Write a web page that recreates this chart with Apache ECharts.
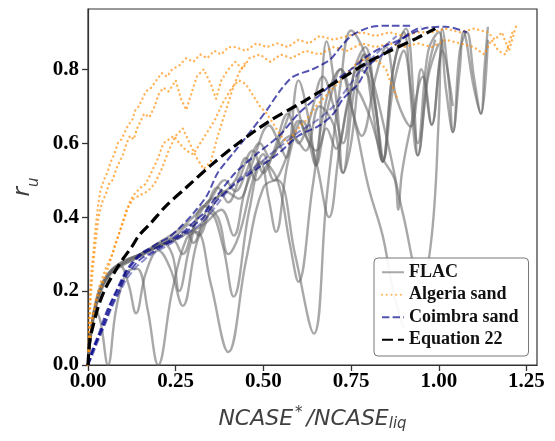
<!DOCTYPE html>
<html><head><meta charset="utf-8">
<script src="https://cdn.jsdelivr.net/npm/echarts@6/dist/echarts.min.js"></script>
<style>html,body{margin:0;padding:0;background:#fff}#c{width:555px;height:441px}</style>
</head><body><div id="c"></div>
<script>
const xTicks = [0, 0.25, 0.5, 0.75, 1.0, 1.25];
const yTicks = [0, 0.2, 0.4, 0.6, 0.8];
const legendNames = ['FLAC', 'Algeria sand', 'Coimbra sand', 'Equation 22'];

// FLAC numerical curves (x, r_u)
const flac1 = [[0,0],[0.008,0.08],[0.02,0.15],[0.035,0.12],[0.057,0],[0.08,0.15],[0.11,0.25],[0.14,0.26],[0.17,0.15],[0.2,0],[0.24,0.2],[0.28,0.34],[0.31,0.36],[0.35,0.22],[0.4,0.035],[0.45,0.28],[0.5,0.48],[0.54,0.5],[0.59,0.3],[0.644,0.085],[0.68,0.45],[0.72,0.76],[0.75,0.905],[0.79,0.84],[0.85,0.62],[0.9,0.4],[0.95,0.22],[0.98,0.35],[1.0,0.67],[1.01,0.91],[1.03,0.75],[1.04,0.63],[1.06,0.8],[1.07,0.9],[1.1,0.75],[1.12,0.68],[1.13,0.8],[1.14,0.915]];
const flac2 = [[0,0],[0.01,0.1],[0.03,0.19],[0.06,0.245],[0.09,0.27],[0.115,0.22],[0.137,0.14],[0.165,0.25],[0.2,0.31],[0.235,0.26],[0.27,0.16],[0.31,0.33],[0.35,0.41],[0.385,0.32],[0.415,0.185],[0.46,0.42],[0.5,0.55],[0.54,0.5],[0.575,0.33],[0.6,0.225],[0.64,0.48],[0.68,0.72],[0.72,0.8],[0.76,0.66],[0.8,0.48],[0.84,0.35],[0.87,0.2],[0.9,0.1]];
const flac3 = [[0,0],[0.01,0.1],[0.03,0.2],[0.06,0.25],[0.1,0.28],[0.15,0.3],[0.2,0.325],[0.25,0.35],[0.29,0.38],[0.315,0.35],[0.35,0.42],[0.39,0.47],[0.43,0.45],[0.47,0.55],[0.516,0.648],[0.545,0.6],[0.565,0.56],[0.6,0.77],[0.63,0.66],[0.65,0.54],[0.68,0.875],[0.71,0.7],[0.727,0.52],[0.76,0.75],[0.79,0.84],[0.82,0.7],[0.84,0.55],[0.87,0.8],[0.906,0.91],[0.93,0.7],[0.94,0.567],[0.97,0.8],[0.99,0.88]];
const flac4 = [[0,0],[0.01,0.09],[0.03,0.18],[0.06,0.24],[0.1,0.27],[0.15,0.295],[0.2,0.32],[0.26,0.345],[0.33,0.38],[0.38,0.42],[0.415,0.35],[0.45,0.48],[0.49,0.55],[0.515,0.45],[0.536,0.36],[0.57,0.55],[0.61,0.66],[0.65,0.55],[0.687,0.40],[0.72,0.6],[0.76,0.75],[0.8,0.68],[0.84,0.56],[0.875,0.5],[0.884,0.42],[0.895,0.52],[0.92,0.645],[0.955,0.78],[0.98,0.65],[1.0,0.8],[1.01,0.88]];
const flac5 = [[0,0],[0.01,0.1],[0.03,0.19],[0.06,0.245],[0.1,0.275],[0.15,0.3],[0.2,0.32],[0.24,0.34],[0.27,0.3],[0.3,0.37],[0.34,0.44],[0.38,0.46],[0.42,0.5],[0.45,0.56],[0.48,0.5],[0.51,0.54],[0.55,0.6],[0.58,0.62],[0.62,0.58],[0.66,0.7],[0.7,0.65],[0.727,0.52],[0.75,0.6],[0.785,0.84],[0.81,0.7],[0.84,0.55],[0.87,0.75],[0.9,0.85],[0.94,0.567],[0.97,0.78],[1.0,0.87]];
const flac6 = [[0,0],[0.01,0.1],[0.025,0.17],[0.05,0.23],[0.08,0.265],[0.12,0.28],[0.16,0.3],[0.21,0.33],[0.24,0.3],[0.26,0.2],[0.29,0.32],[0.33,0.43],[0.37,0.4],[0.4,0.3],[0.43,0.35],[0.47,0.5],[0.5,0.57],[0.53,0.5],[0.565,0.56],[0.6,0.66],[0.63,0.6],[0.65,0.54],[0.68,0.64],[0.707,0.585],[0.74,0.7],[0.77,0.8],[0.8,0.78],[0.84,0.55]];
const flac7 = [[0,0],[0.01,0.1],[0.03,0.19],[0.06,0.245],[0.1,0.275],[0.15,0.3],[0.2,0.33],[0.25,0.36],[0.3,0.4],[0.35,0.45],[0.39,0.5],[0.42,0.47],[0.45,0.52],[0.49,0.6],[0.52,0.56],[0.55,0.62],[0.59,0.7],[0.62,0.62],[0.65,0.58],[0.69,0.72],[0.72,0.8],[0.75,0.7],[0.78,0.62],[0.82,0.78],[0.85,0.86],[0.88,0.72],[0.92,0.645],[0.95,0.8],[0.98,0.65],[1.01,0.85],[1.04,0.7]];
const flac8 = [[0,0],[0.01,0.1],[0.03,0.19],[0.06,0.25],[0.1,0.28],[0.15,0.3],[0.2,0.32],[0.25,0.34],[0.28,0.36],[0.3,0.33],[0.33,0.4],[0.37,0.48],[0.4,0.44],[0.43,0.5],[0.47,0.58],[0.5,0.52],[0.53,0.58],[0.57,0.68],[0.6,0.6],[0.63,0.66],[0.67,0.78],[0.7,0.7],[0.727,0.6],[0.76,0.8],[0.79,0.86],[0.82,0.7],[0.84,0.55],[0.87,0.8],[0.9,0.9],[0.92,0.75],[0.94,0.6],[0.97,0.85],[1.0,0.9],[1.02,0.75],[1.04,0.63],[1.06,0.85],[1.08,0.9],[1.1,0.78],[1.12,0.68],[1.14,0.88]];

// Laboratory data, Algeria sand
const algeria1 = [[0,0],[0.003,0.12],[0.006,0.2],[0.01,0.26],[0.015,0.3],[0.02,0.36],[0.025,0.4],[0.03,0.44],[0.035,0.47],[0.045,0.5],[0.055,0.52],[0.065,0.55],[0.075,0.57],[0.085,0.6],[0.095,0.61],[0.105,0.63],[0.115,0.65],[0.125,0.66],[0.135,0.69],[0.145,0.7],[0.155,0.72],[0.165,0.74],[0.18,0.75],[0.195,0.77],[0.21,0.79],[0.225,0.78],[0.24,0.8],[0.26,0.81],[0.28,0.83],[0.3,0.82],[0.32,0.84],[0.34,0.83],[0.36,0.85],[0.38,0.84],[0.4,0.86],[0.42,0.86],[0.45,0.85],[0.48,0.87],[0.51,0.86],[0.54,0.87],[0.57,0.86],[0.6,0.88],[0.63,0.87],[0.66,0.89],[0.7,0.88],[0.74,0.89],[0.78,0.9],[0.82,0.89],[0.86,0.9],[0.9,0.89],[0.94,0.9],[0.98,0.9],[1.02,0.91],[1.06,0.9],[1.1,0.91],[1.14,0.9],[1.16,0.88],[1.18,0.9],[1.2,0.85],[1.22,0.915]];
const algeria2 = [[0,0],[0.004,0.1],[0.008,0.18],[0.012,0.24],[0.018,0.3],[0.024,0.35],[0.03,0.4],[0.04,0.44],[0.05,0.46],[0.06,0.49],[0.07,0.5],[0.08,0.53],[0.09,0.55],[0.1,0.57],[0.11,0.6],[0.12,0.62],[0.13,0.61],[0.14,0.64],[0.15,0.66],[0.16,0.68],[0.175,0.67],[0.19,0.7],[0.2,0.73],[0.215,0.75],[0.23,0.74],[0.25,0.77],[0.265,0.72],[0.28,0.69],[0.29,0.72],[0.31,0.78],[0.33,0.8],[0.35,0.76],[0.365,0.72],[0.38,0.77],[0.4,0.8],[0.42,0.82],[0.44,0.8],[0.46,0.83],[0.49,0.84],[0.52,0.82],[0.55,0.84],[0.58,0.83],[0.62,0.85],[0.66,0.84],[0.7,0.86],[0.74,0.85],[0.78,0.87],[0.82,0.86],[0.86,0.87],[0.9,0.86],[0.94,0.87],[0.98,0.86],[1.02,0.88],[1.06,0.87],[1.1,0.86],[1.13,0.84],[1.15,0.88],[1.17,0.85],[1.19,0.84],[1.2,0.87],[1.21,0.9]];
const algeria3 = [[0,0],[0.005,0.07],[0.01,0.12],[0.02,0.16],[0.03,0.19],[0.045,0.23],[0.06,0.27],[0.075,0.32],[0.09,0.36],[0.105,0.4],[0.117,0.437],[0.13,0.46],[0.15,0.48],[0.165,0.49],[0.18,0.52],[0.2,0.56],[0.215,0.6],[0.23,0.61],[0.245,0.62],[0.26,0.6],[0.28,0.58],[0.3,0.57],[0.32,0.6],[0.34,0.63],[0.36,0.66],[0.385,0.71],[0.41,0.75],[0.43,0.77],[0.45,0.76],[0.47,0.73],[0.49,0.7],[0.51,0.68],[0.53,0.65],[0.55,0.62],[0.57,0.6],[0.59,0.63],[0.62,0.66],[0.65,0.7],[0.68,0.73],[0.71,0.76],[0.74,0.79],[0.77,0.82],[0.8,0.83],[0.83,0.82],[0.85,0.8],[0.86,0.77],[0.87,0.75],[0.88,0.725]];
const algeria4 = [[0,0],[0.01,0.1],[0.02,0.17],[0.035,0.22],[0.05,0.26],[0.07,0.3],[0.09,0.36],[0.11,0.42],[0.13,0.45],[0.15,0.46],[0.17,0.47],[0.19,0.49],[0.21,0.53],[0.23,0.58],[0.25,0.62],[0.27,0.64],[0.29,0.6],[0.31,0.56],[0.33,0.53],[0.35,0.55],[0.37,0.62],[0.39,0.68],[0.41,0.74],[0.43,0.79],[0.45,0.82]];

// Laboratory data, Coimbra sand
const coimbra1 = [[0,0],[0.005,0.02],[0.01,0.035],[0.02,0.06],[0.031,0.085],[0.04,0.11],[0.051,0.14],[0.065,0.17],[0.08,0.2],[0.095,0.23],[0.108,0.255],[0.12,0.27],[0.137,0.29],[0.155,0.305],[0.174,0.315],[0.2,0.33],[0.23,0.345],[0.26,0.37],[0.3,0.41],[0.34,0.46],[0.37,0.52],[0.42,0.58],[0.47,0.64],[0.51,0.69],[0.55,0.745],[0.585,0.78],[0.64,0.8],[0.69,0.826],[0.72,0.86],[0.75,0.89],[0.78,0.905],[0.81,0.915],[0.86,0.918],[0.92,0.918]];
const coimbra2 = [[0,0],[0.005,0.015],[0.01,0.03],[0.02,0.055],[0.031,0.08],[0.04,0.1],[0.051,0.13],[0.065,0.165],[0.08,0.195],[0.095,0.225],[0.108,0.25],[0.12,0.265],[0.137,0.285],[0.155,0.3],[0.174,0.31],[0.2,0.32],[0.23,0.335],[0.255,0.35],[0.28,0.366],[0.305,0.39],[0.33,0.41],[0.35,0.435],[0.373,0.464],[0.42,0.52],[0.48,0.57],[0.545,0.62],[0.6,0.68],[0.66,0.73],[0.707,0.77],[0.75,0.8],[0.795,0.835],[0.84,0.86],[0.89,0.88],[0.93,0.9],[0.966,0.912],[1.02,0.915],[1.08,0.9]];
const coimbra3 = [[0,0],[0.005,0.012],[0.01,0.025],[0.02,0.05],[0.031,0.075],[0.04,0.095],[0.051,0.12],[0.065,0.155],[0.08,0.185],[0.095,0.215],[0.108,0.24],[0.12,0.255],[0.137,0.275],[0.155,0.29],[0.174,0.3],[0.2,0.315],[0.23,0.33],[0.255,0.345],[0.28,0.36],[0.305,0.38],[0.33,0.4],[0.35,0.425],[0.373,0.45],[0.42,0.49],[0.48,0.53],[0.54,0.57],[0.6,0.62],[0.66,0.648],[0.7,0.68],[0.727,0.72],[0.77,0.76],[0.8,0.81],[0.84,0.84],[0.88,0.87],[0.92,0.9],[0.95,0.915]];
const coimbra4 = [[0,0],[0.005,0.01],[0.01,0.02],[0.02,0.045],[0.031,0.07],[0.04,0.09],[0.051,0.115],[0.065,0.15],[0.08,0.18],[0.095,0.205],[0.108,0.23],[0.12,0.245],[0.137,0.265],[0.155,0.28],[0.174,0.295],[0.2,0.31],[0.23,0.325],[0.255,0.34],[0.28,0.355],[0.305,0.37],[0.33,0.39],[0.373,0.44],[0.42,0.495],[0.47,0.53],[0.516,0.567],[0.56,0.6],[0.6,0.63],[0.65,0.66],[0.7,0.7],[0.74,0.75],[0.78,0.8],[0.82,0.84],[0.855,0.87],[0.88,0.89]];

// Equation 22
const equation22 = [[0,0],[0.005,0.065],[0.014,0.104],[0.03,0.16],[0.051,0.21],[0.075,0.25],[0.099,0.286],[0.125,0.32],[0.145,0.35],[0.18,0.385],[0.222,0.43],[0.28,0.48],[0.35,0.54],[0.42,0.594],[0.516,0.659],[0.613,0.712],[0.707,0.766],[0.8,0.82],[0.855,0.847],[0.935,0.883],[0.99,0.91]];

const flacCurves = [flac1, flac2, flac3, flac4, flac5, flac6, flac7, flac8];
const algeriaCurves = [algeria1, algeria2, algeria3, algeria4];
const coimbraCurves = [coimbra1, coimbra2, coimbra3, coimbra4];

const series = [];
flacCurves.forEach(d => series.push({
  name: 'FLAC', type: 'line', data: d, symbol: 'none', smooth: 0.4,
  lineStyle: {color: 'rgba(105,105,105,0.58)', width: 2.4}, itemStyle: {color: 'rgba(105,105,105,0.58)'}, z: 2
}));
algeriaCurves.forEach(d => series.push({
  name: 'Algeria sand', type: 'line', data: d, symbol: 'none',
  lineStyle: {color: 'rgba(255,140,0,0.65)', width: 2.4, type: [0.1, 4.6], cap: 'round'}, itemStyle: {color: 'rgba(255,140,0,0.65)'}, z: 3
}));
coimbraCurves.forEach((d, i) => series.push({
  name: 'Coimbra sand', type: 'line', data: d, symbol: 'none', smooth: 0.3,
  lineStyle: {color: i === 3 ? 'rgba(30,30,150,0.5)' : 'rgba(0,0,139,0.68)', width: 2, type: [7.4, 3.2]}, itemStyle: {color: 'rgba(0,0,139,0.5)'}, z: 4
}));
series.push({
  name: 'Equation 22', type: 'line', data: equation22, symbol: 'none', smooth: 0.3,
  lineStyle: {color: '#000', width: 3.2, type: [11, 5]}, itemStyle: {color: '#000'}, z: 5
});

const tickFont = {fontFamily: 'Liberation Serif', fontWeight: 'bold', fontSize: 21, color: '#000'};
const chart = echarts.init(document.getElementById('c'), null, {renderer: 'canvas'});
chart.setOption({
  animation: false,
  backgroundColor: '#fff',
  grid: {left: 88, right: 18, top: 9, bottom: 76, show: true, borderColor: '#333', borderWidth: 1.2, backgroundColor: 'transparent'},
  xAxis: {
    type: 'value', min: 0, max: 1.28, interval: 0.25,
    axisLine: {show: true, lineStyle: {color: '#333', width: 1.2}},
    axisTick: {show: true, length: 6, lineStyle: {color: '#333', width: 1.3}, customValues: xTicks},
    axisLabel: Object.assign({margin: 6, customValues: xTicks, formatter: v => v.toFixed(2)}, tickFont),
    splitLine: {show: false},
    name: '{n|NCASE}{sup|*}{n|/NCASE}{sub|liq}', nameLocation: 'middle', nameGap: 41,
    nameTextStyle: {rich: {
      n: {fontFamily: 'DejaVu Sans', fontStyle: 'italic', fontSize: 22, color: '#404040', lineHeight: 26, verticalAlign: 'middle'},
      sup: {fontFamily: 'DejaVu Sans', fontStyle: 'italic', fontSize: 15, color: '#404040', lineHeight: 15, verticalAlign: 'top', padding: [0, 4, 0, 2]},
      sub: {fontFamily: 'DejaVu Sans', fontStyle: 'italic', fontSize: 15, color: '#404040', lineHeight: 15, verticalAlign: 'bottom'}
    }}
  },
  yAxis: {
    type: 'value', min: 0, max: 0.963, interval: 0.2,
    axisLine: {show: true, lineStyle: {color: '#333', width: 1.2}},
    axisTick: {show: true, length: 6, lineStyle: {color: '#333', width: 1.3}, customValues: yTicks},
    axisLabel: Object.assign({margin: 9, customValues: yTicks, formatter: v => v.toFixed(1)}, tickFont),
    splitLine: {show: false},
    name: '{r|r}{u|u}', nameLocation: 'middle', nameGap: 40,
    nameTextStyle: {rich: {
      r: {fontFamily: 'DejaVu Sans', fontStyle: 'italic', fontSize: 23, color: '#404040', lineHeight: 24, verticalAlign: 'top'},
      u: {fontFamily: 'DejaVu Sans', fontStyle: 'italic', fontSize: 15, color: '#404040', lineHeight: 30, verticalAlign: 'bottom'}
    }}
  },
  legend: {
    data: legendNames, orient: 'vertical', left: 374, top: 258,
    itemWidth: 22, itemHeight: 12, itemGap: 4,
    padding: [5, 10, 7, 7],
    itemStyle: {opacity: 0},
    backgroundColor: 'rgba(255,255,255,0.92)', borderColor: '#777', borderWidth: 1, borderRadius: 4,
    textStyle: {fontFamily: 'Liberation Serif', fontWeight: 'bold', fontSize: 18, color: '#111', lineHeight: 18.5},
    z: 10
  },
  series: series
});
</script>
</body></html>
